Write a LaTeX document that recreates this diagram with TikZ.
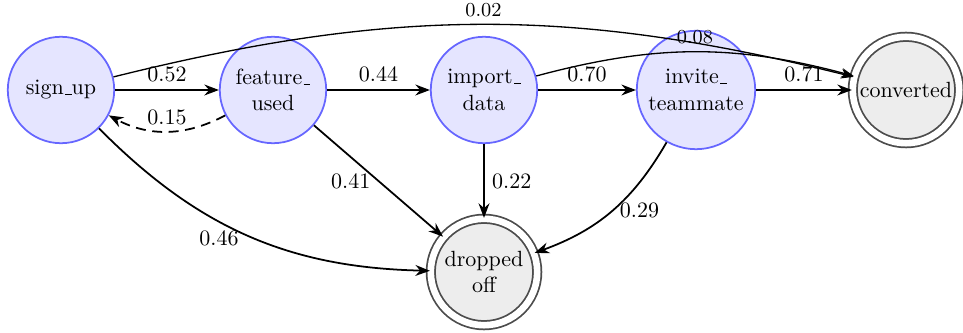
\documentclass[tikz,border=0pt]{standalone}
\usetikzlibrary{arrows.meta}
\newcommand\us{\leavevmode\kern.06em\vbox{\hrule width.3em}}
\begin{document}
\begin{tikzpicture}[x=0.4545pt,y=-0.4545pt,
  state/.style={circle,draw=blue!60,fill=blue!10,thick,minimum size=1.7cm,inner sep=2.5pt,align=center},
  final/.style={circle,draw=black!70,fill=black!7,thick,double,double distance=3pt,minimum size=1.7cm,inner sep=1pt,align=center},
  edge/.style={-{Stealth},thick},
  thinedge/.style={-{Stealth},line width=0.6pt},
  lbl/.style={font=\small}
]
\useasboundingbox (0,0) rectangle (963,333);
\node[state] (s) at (61,90) {sign\us up};
\node[state] (f) at (273,90) {feature\us\\used};
\node[state] (i) at (484,90) {import\us\\data};
\node[state] (t) at (696,90) {invite\us\\teammate};
\node[final] (c) at (906,90) {converted};
\node[final] (d) at (484,272) {dropped\\off};

\draw[edge] (s) -- node[above] {0.52} (f);
\draw[edge,dash pattern=on 4.5pt off 3pt] (f) to[bend left=28] node[above,yshift=-1pt] {0.15} (s);
\draw[edge] (f) -- node[above] {0.44} (i);
\draw[edge] (i) -- node[above] {0.70} (t);
\draw[edge] (t) -- node[above] {0.71} (c);
\draw[thinedge] (s) to[bend left=14] node[above,lbl] {0.02} (c);
\draw[thinedge] (i) to[bend left=15] node[above,lbl] {0.08} (c);
\draw[edge] (f) -- node[left] {0.41} (d);
\draw[edge] (i) -- node[right] {0.22} (d);
\draw[edge] (t) to[bend left=20] node[right] {0.29} (d);
\draw[edge] (s) to[bend right=22] node[pos=0.47,anchor=north east,inner sep=0pt,yshift=1pt] {0.46} (d);
\end{tikzpicture}
\end{document}
